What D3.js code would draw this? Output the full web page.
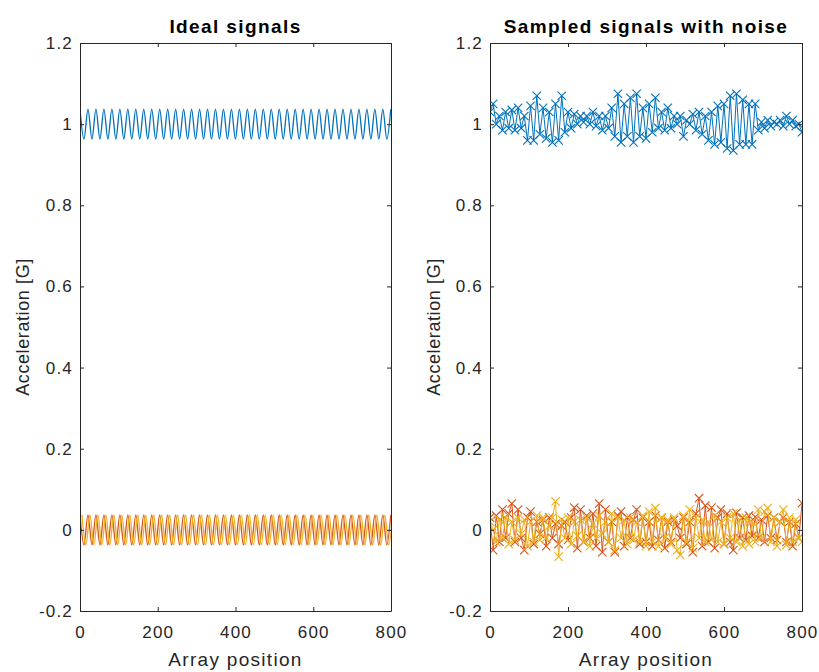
<!DOCTYPE html>
<html><head><meta charset="utf-8">
<script src="https://cdn.jsdelivr.net/npm/d3@7"></script>
<style>body{margin:0;background:#fff;} svg{display:block;} text{font-family:"Liberation Sans",Arial,Helvetica,sans-serif;}</style>
</head><body><svg id="c" width="819" height="672"></svg>
<script>
// ---- Data ----
const titles = ["Ideal signals", "Sampled signals with noise"];
const xLabel = "Array position";
const yLabel = "Acceleration [G]";
const xTicks = [0, 200, 400, 600, 800];
const yTicks = [-0.2, 0, 0.2, 0.4, 0.6, 0.8, 1, 1.2];
const yTickLabels = ["-0.2", "0", "0.2", "0.4", "0.6", "0.8", "1", "1.2"];
const colors = ["#0072BD", "#D95319", "#EDB120"];

// ideal signals: successive extremes, spaced idealStep apart along the array
const idealStep = 10.25;
const idealBlue = [1.037,0.963,1.037,0.963,1.037,0.963,1.037,0.963,1.037,0.963,1.037,0.963,1.037,0.963,1.037,0.963,1.037,0.963,1.037,0.963,1.037,0.963,1.037,0.963,1.037,0.963,1.037,0.963,1.037,0.963,1.037,0.963,1.037,0.963,1.037,0.963,1.037,0.963,1.037,0.963,1.037,0.963,1.037,0.963,1.037,0.963,1.037,0.963,1.037,0.963,1.037,0.963,1.037,0.963,1.037,0.963,1.037,0.963,1.037,0.963,1.037,0.963,1.037,0.963,1.037,0.963,1.037,0.963,1.037,0.963,1.037,0.963,1.037,0.963,1.037,0.963,1.037,0.963,1.037];
const idealOrange = [0.037,-0.037,0.037,-0.037,0.037,-0.037,0.037,-0.037,0.037,-0.037,0.037,-0.037,0.037,-0.037,0.037,-0.037,0.037,-0.037,0.037,-0.037,0.037,-0.037,0.037,-0.037,0.037,-0.037,0.037,-0.037,0.037,-0.037,0.037,-0.037,0.037,-0.037,0.037,-0.037,0.037,-0.037,0.037,-0.037,0.037,-0.037,0.037,-0.037,0.037,-0.037,0.037,-0.037,0.037,-0.037,0.037,-0.037,0.037,-0.037,0.037,-0.037,0.037,-0.037,0.037,-0.037,0.037,-0.037,0.037,-0.037,0.037,-0.037,0.037,-0.037,0.037,-0.037,0.037,-0.037,0.037,-0.037,0.037,-0.037,0.037,-0.037,0.037];
const idealYellow = [0.037,-0.037,0.037,-0.037,0.037,-0.037,0.037,-0.037,0.037,-0.037,0.037,-0.037,0.037,-0.037,0.037,-0.037,0.037,-0.037,0.037,-0.037,0.037,-0.037,0.037,-0.037,0.037,-0.037,0.037,-0.037,0.037,-0.037,0.037,-0.037,0.037,-0.037,0.037,-0.037,0.037,-0.037,0.037,-0.037,0.037,-0.037,0.037,-0.037,0.037,-0.037,0.037,-0.037,0.037,-0.037,0.037,-0.037,0.037,-0.037,0.037,-0.037,0.037,-0.037,0.037,-0.037,0.037,-0.037,0.037,-0.037,0.037,-0.037,0.037,-0.037,0.037,-0.037,0.037,-0.037,0.037,-0.037,0.037,-0.037,0.037,-0.037,0.037];
const idealShift = [0, 0, 5]; // phase shift of each ideal series, array units

// sampled signals with noise: one sample every sampleStep positions
const sampleStep = 8;
const noisyBlue = [1.03,1.05,1.00,1.02,0.985,1.03,0.99,1.035,0.985,1.04,0.99,1.02,0.96,1.045,0.96,1.07,0.975,1.04,0.965,1.03,0.955,1.05,0.96,1.07,0.98,1.03,0.99,1.025,1.0,1.02,1.005,1.02,1.0,1.03,0.995,1.02,0.985,1.02,0.99,1.04,0.97,1.075,0.955,1.05,0.97,1.065,0.955,1.075,0.97,1.04,0.965,1.05,0.98,1.065,0.99,1.03,0.985,1.04,0.99,1.02,1.0,1.02,0.97,1.01,1.0,1.025,0.985,1.03,0.975,1.02,0.96,1.03,0.95,1.045,0.955,1.05,0.94,1.07,0.935,1.075,0.95,1.06,0.95,1.05,0.95,1.05,0.985,1.005,0.99,1.01,0.995,1.005,1.0,1.01,0.995,1.02,1.0,1.01,0.995,1.0,0.98];
const noisyOrange = [0.03,-0.05,0.035,-0.03,0.05,-0.02,0.04,0.065,-0.03,0.05,-0.02,-0.05,0.03,0.045,-0.035,0.02,-0.01,0.025,-0.04,0.03,-0.02,0.015,-0.035,0.01,0.02,-0.025,0.03,0.055,-0.045,0.05,-0.03,0.035,-0.02,0.04,-0.04,0.065,-0.055,0.05,-0.03,0.02,-0.055,0.035,0.045,-0.04,0.03,-0.02,0.025,0.05,-0.035,0.03,-0.03,0.02,-0.04,0.035,-0.025,0.03,-0.045,0.02,-0.03,0.025,0.01,-0.02,0.03,-0.035,0.02,-0.055,0.04,0.078,-0.04,0.06,-0.03,0.055,-0.045,0.03,0.05,-0.035,0.04,-0.03,-0.05,0.042,-0.02,0.03,-0.025,0.035,-0.015,0.032,-0.02,0.025,-0.03,0.035,-0.02,0.03,-0.025,0.02,0.03,-0.03,0.02,-0.04,0.015,-0.02,0.066];
const noisyYellow = [0.02,0.0,-0.03,0.025,-0.02,0.03,-0.035,0.02,-0.025,0.03,-0.01,0.025,-0.04,0.02,-0.03,0.035,-0.025,0.03,-0.02,0.01,0.03,0.07,-0.066,0.025,-0.02,0.03,-0.035,0.02,-0.015,0.025,-0.03,0.03,-0.04,0.015,-0.02,0.035,-0.01,0.02,-0.03,0.04,-0.05,0.03,-0.02,0.025,-0.035,0.03,-0.025,0.02,-0.03,0.035,-0.04,0.045,-0.03,0.054,-0.04,0.03,-0.02,0.025,-0.035,0.03,-0.05,-0.062,0.035,-0.03,0.05,-0.045,0.03,-0.02,0.025,-0.03,0.02,-0.025,0.035,-0.03,0.02,-0.035,0.03,-0.02,0.04,-0.03,0.025,-0.04,0.03,-0.035,0.02,-0.03,0.05,-0.02,0.045,0.054,-0.03,0.03,-0.04,0.02,0.05,-0.037,0.03,-0.03,0.025,-0.02,-0.03];

// ---- Drawing ----
const svg = d3.select("#c");
const panels = [
  {x0: 80, x1: 391, series: [idealBlue, idealOrange, idealYellow], step: idealStep, markers: false, ylabX: 23},
  {x0: 490, x1: 802, series: [noisyBlue, noisyOrange, noisyYellow], step: sampleStep, markers: true, ylabX: 434}
];
const yTop = 43, yBot = 611;
const axisColor = "#262626";

panels.forEach((p, pi) => {
  const x = d3.scaleLinear().domain([0, 800]).range([p.x0, p.x1]);
  const y = d3.scaleLinear().domain([-0.2, 1.2]).range([yBot, yTop]);
  const g = svg.append("g");
  const clipId = "clip" + pi;
  svg.append("clipPath").attr("id", clipId).append("rect")
    .attr("x", p.x0).attr("y", yTop - 6).attr("width", p.x1 - p.x0).attr("height", yBot - yTop + 12);

  const plot = g.append("g").attr("clip-path", `url(#${clipId})`);
  p.series.forEach((vals, si) => {
    const shift = p.markers ? 0 : idealShift[si];
    const pts = vals.map((v, i) => [i * p.step + shift, v]);
    const line = d3.line().x(d => x(d[0])).y(d => y(d[1]))
      .curve(p.markers ? d3.curveLinear : d3.curveMonotoneX);
    plot.append("path").datum(pts).attr("d", line)
      .attr("fill", "none").attr("stroke", colors[si]).attr("stroke-width", p.markers ? 1 : 1.3);
    if (p.markers) {
      const s = 4.2;
      plot.append("g").selectAll("path").data(pts).join("path")
        .attr("d", d => `M${x(d[0]) - s},${y(d[1]) - s}L${x(d[0]) + s},${y(d[1]) + s}M${x(d[0]) - s},${y(d[1]) + s}L${x(d[0]) + s},${y(d[1]) - s}`)
        .attr("stroke", colors[si]).attr("stroke-width", 1.1).attr("fill", "none");
    }
  });

  // axes (box with inward ticks on all sides)
  const tl = 4;
  const xb = d3.axisBottom(x).tickValues(xTicks).tickSizeInner(-tl).tickSizeOuter(0).tickPadding(15).tickFormat(d3.format("d"));
  const xt = d3.axisTop(x).tickValues(xTicks).tickSizeInner(-tl).tickSizeOuter(0).tickFormat("");
  const yl = d3.axisLeft(y).tickValues(yTicks).tickSizeInner(-tl).tickSizeOuter(0).tickPadding(7)
    .tickFormat((d, i) => yTickLabels[i]);
  const yr = d3.axisRight(y).tickValues(yTicks).tickSizeInner(-tl).tickSizeOuter(0).tickFormat("");
  const axes = [
    g.append("g").attr("transform", `translate(0,${yBot})`).call(xb),
    g.append("g").attr("transform", `translate(0,${yTop})`).call(xt),
    g.append("g").attr("transform", `translate(${p.x0},0)`).call(yl),
    g.append("g").attr("transform", `translate(${p.x1},0)`).call(yr)
  ];
  axes.forEach(a => {
    a.select(".domain").attr("stroke", axisColor).attr("stroke-width", 1);
    a.selectAll(".tick line").attr("stroke", axisColor);
    a.selectAll(".tick text").attr("fill", axisColor).attr("font-size", 17)
      .attr("letter-spacing", 1.2)
      .attr("font-family", "'Liberation Sans', Arial, sans-serif");
  });

  g.append("text").attr("x", (p.x0 + p.x1) / 2).attr("y", 33).attr("text-anchor", "middle")
    .attr("font-size", 19).attr("font-weight", "bold").attr("letter-spacing", 1.4).attr("fill", "#000").text(titles[pi]);
  g.append("text").attr("x", (p.x0 + p.x1) / 2).attr("y", 666).attr("text-anchor", "middle")
    .attr("font-size", 19).attr("letter-spacing", 1.3).attr("fill", axisColor).text(xLabel);
  g.append("text").attr("transform", `translate(${p.ylabX},${(yTop + yBot) / 2}) rotate(-90)`)
    .attr("text-anchor", "middle").attr("dy", "0.35em").attr("font-size", 18).attr("letter-spacing", 0.6)
    .attr("fill", axisColor).text(yLabel);
});
</script></body></html>
